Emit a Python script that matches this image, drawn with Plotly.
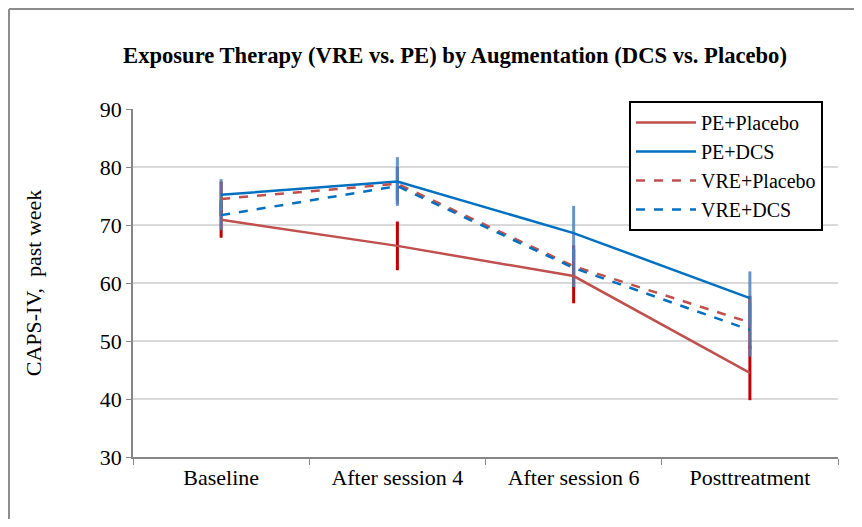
import plotly.graph_objects as go

categories = ["Baseline", "After session 4", "After session 6", "Posttreatment"]

pe_placebo = [70.9, 66.4, 61.2, 44.5]
pe_dcs = [75.2, 77.5, 68.6, 57.4]
vre_placebo = [74.5, 77.1, 62.9, 53.2]
vre_dcs = [71.7, 76.7, 62.6, 51.9]

pe_placebo_err = [3.1, 4.2, 4.7, 4.7]
pe_dcs_err = [2.7, 4.2, 4.7, 4.6]
vre_placebo_err = [3.0, 2.9, 3.6, 4.6]
vre_dcs_err = [2.6, 3.1, 3.3, 4.6]

y_ticks = [30, 40, 50, 60, 70, 80, 90]

RED = "#C0504D"
BLUE = "#0070C0"
RED_ERR = "#C00000"
BLUE_ERR = "rgba(79,129,189,0.85)"
AXIS = "#868686"
FONT = "Liberation Serif"

fig = go.Figure()

# error bars (drawn under lines)
for vals, errs, col in [(pe_placebo, pe_placebo_err, RED_ERR),
                        (vre_placebo, vre_placebo_err, RED_ERR),
                        (pe_dcs, pe_dcs_err, BLUE_ERR),
                        (vre_dcs, vre_dcs_err, BLUE_ERR)]:
    fig.add_trace(go.Scatter(
        x=categories, y=vals, mode="markers",
        marker=dict(size=1, color="rgba(0,0,0,0)"),
        error_y=dict(type="data", array=errs, visible=True, color=col, thickness=3, width=0),
        showlegend=False, hoverinfo="skip"))

series = [
    ("PE+Placebo", pe_placebo, RED, "solid"),
    ("PE+DCS", pe_dcs, BLUE, "solid"),
    ("VRE+Placebo", vre_placebo, RED, "dash"),
    ("VRE+DCS", vre_dcs, BLUE, "dash"),
]
for name, vals, col, dash in series:
    fig.add_trace(go.Scatter(
        x=categories, y=vals, mode="lines", name=name,
        line=dict(color=col, width=2.5, dash=dash)))

fig.update_layout(
    width=846, height=511,
    margin=dict(l=125, r=16, t=101, b=62),
    paper_bgcolor="white", plot_bgcolor="white",
    font=dict(family=FONT, color="black"),
    title=dict(text="<b>Exposure Therapy (VRE vs. PE) by Augmentation (DCS vs. Placebo)</b>",
               x=447 / 846, xanchor="center", y=1 - 47 / 511, yanchor="middle",
               font=dict(family=FONT, size=22.6, color="black")),
    legend=dict(x=0.7035, xanchor="left", y=1.023, yanchor="top",
                bordercolor="black", borderwidth=2, bgcolor="white",
                font=dict(family=FONT, size=20, color="black"),
                tracegroupgap=0, itemwidth=60),
    showlegend=True,
)
fig.update_xaxes(
    type="category", tickson="boundaries", ticks="outside", ticklen=6,
    tickcolor=AXIS, showline=True, linecolor=AXIS, linewidth=1.5, showgrid=False,
    tickfont=dict(family=FONT, size=22, color="black"),
    range=[-0.5, 3.5],
)
fig.update_yaxes(
    range=[30, 90], tickvals=y_ticks, showgrid=True, gridcolor="#D9D9D9", gridwidth=2,
    zeroline=False, showline=True, linecolor=AXIS, linewidth=1.5,
    ticks="outside", ticklen=5, tickcolor=AXIS,
    tickfont=dict(family=FONT, size=22, color="black"),
    title=dict(text="CAPS-IV,  past week", font=dict(family=FONT, size=22, color="black"), standoff=52),
)
# outer chart frame (only left and top edges are visible in the reference)
fx0, fy1 = -124 / 705, 448 / 348
fig.add_shape(type="line", xref="paper", yref="paper", x0=fx0, x1=fx0, y0=-0.2, y1=fy1,
              line=dict(color="#8C8C8C", width=2), layer="below")
fig.add_shape(type="line", xref="paper", yref="paper", x0=fx0, x1=1.05, y0=fy1, y1=fy1,
              line=dict(color="#8C8C8C", width=2), layer="below")

fig.write_html("out.html")
